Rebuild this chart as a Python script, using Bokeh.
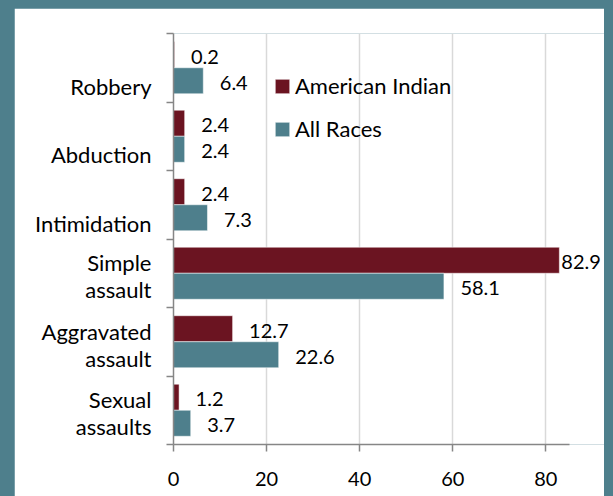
import numpy as np
from bokeh.plotting import figure
from bokeh.models import (Range1d, FixedTicker, ColumnDataSource, LabelSet,
                          Legend, LegendItem)
from bokeh.core.properties import value
from bokeh.embed import file_html
from bokeh.resources import INLINE

# ---- data ----
categories = ["Robbery", "Abduction", "Intimidation",
              "Simple\nassault", "Aggravated\nassault", "Sexual\nassaults"]
american_indian = [0.2, 2.4, 2.4, 82.9, 12.7, 1.2]
all_races = [6.4, 2.4, 7.3, 58.1, 22.6, 3.7]
x_ticks = [0, 20, 40, 60, 80]
series_names = ["American Indian", "All Races"]

RED = "#6B1421"
TEAL = "#4E7F8C"
BG = "#4E7F8C"
FONT = "Lato"
AXIS = "#868686"
AXIS_MAX = 85

n = len(categories)
centers = np.arange(n) + 0.5
bar_h = 0.38
y_red = centers - bar_h / 2
y_teal = centers + bar_h / 2

p = figure(width=590, height=488, x_range=Range1d(0, 92.6), y_range=Range1d(n, 0),
           output_backend="svg", toolbar_location=None,
           min_border_left=159, min_border_right=0,
           min_border_top=25, min_border_bottom=52)
p.outline_line_color = None
p.background_fill_color = "white"
p.border_fill_color = "white"


def label_offsets(vals):
    return [2 if v > AXIS_MAX - 8 else 16.5 for v in vals]


src_red = ColumnDataSource(dict(y=y_red, v=american_indian,
                                t=[f"{v:.1f}" for v in american_indian],
                                xo=label_offsets(american_indian)))
src_teal = ColumnDataSource(dict(y=y_teal, v=all_races,
                                 t=[f"{v:.1f}" for v in all_races],
                                 xo=label_offsets(all_races)))

r1 = p.hbar(y="y", left=0, right="v", height=bar_h, source=src_red,
            fill_color=RED, line_color="white", line_alpha=0.5, line_width=1)
r2 = p.hbar(y="y", left=0, right="v", height=bar_h, source=src_teal,
            fill_color=TEAL, line_color="white", line_alpha=0.5, line_width=1)

for src in (src_red, src_teal):
    p.add_layout(LabelSet(x="v", y="y", text="t", source=src, x_offset="xo",
                          y_offset=-2, text_baseline="middle", text_align="left",
                          text_font=value(FONT), text_font_size=value("20px"),
                          text_color="black"))

# ---- y axis (category labels + boundary ticks) ----
label_pos = [float(c + (0.045 if "\n" in cat else 0.27)) for c, cat in zip(centers, categories)]
yax = p.yaxis[0]
yax.ticker = FixedTicker(ticks=label_pos, minor_ticks=list(range(n + 1)))
yax.major_label_overrides = {t: cat for t, cat in zip(label_pos, categories)}
yax.axis_line_color = AXIS
yax.axis_line_width = 1.5
yax.major_tick_line_color = None
yax.major_tick_out = 0
yax.major_tick_in = 0
yax.minor_tick_line_color = AXIS
yax.minor_tick_line_width = 1.5
yax.minor_tick_out = 7
yax.minor_tick_in = 0
yax.major_label_text_font = FONT
yax.major_label_text_font_size = "22px"
yax.major_label_text_color = "black"
yax.major_label_text_line_height = 1.0
yax.major_label_standoff = 15

# ---- x axis ----
xax = p.xaxis[0]
xax.ticker = FixedTicker(ticks=x_ticks, minor_ticks=[])
xax.bounds = (0, AXIS_MAX)
xax.axis_line_color = AXIS
xax.axis_line_width = 1.5
xax.major_tick_line_color = AXIS
xax.major_tick_line_width = 1.5
xax.major_tick_out = 7
xax.major_tick_in = 0
xax.minor_tick_line_color = None
xax.major_label_text_font = FONT
xax.major_label_text_font_size = "20px"
xax.major_label_text_color = "black"
xax.major_label_standoff = 20

p.xgrid.ticker = FixedTicker(ticks=x_ticks, minor_ticks=[])
p.xgrid.grid_line_color = "#D9D9D9"
p.xgrid.grid_line_width = 1.5
p.ygrid.grid_line_color = None

legend = Legend(items=[LegendItem(label=series_names[0], renderers=[r1]),
                       LegendItem(label=series_names[1], renderers=[r2])],
                location=(100, 302), glyph_width=18, glyph_height=18,
                label_height=27, spacing=16, padding=0, margin=0,
                label_standoff=4, label_text_font=FONT,
                label_text_font_size="22px", label_text_color="black",
                border_line_color=None, background_fill_alpha=0)
p.add_layout(legend)

html = file_html(p, INLINE)
style = ("<style>html, body { background-color: %s !important; overflow: hidden !important; }"
         " body { padding: 8px 0 0 14px !important; margin: 0 !important; }</style>" % BG)
html = html.replace("</head>", style + "</head>", 1)
open("out.html", "w").write(html)
